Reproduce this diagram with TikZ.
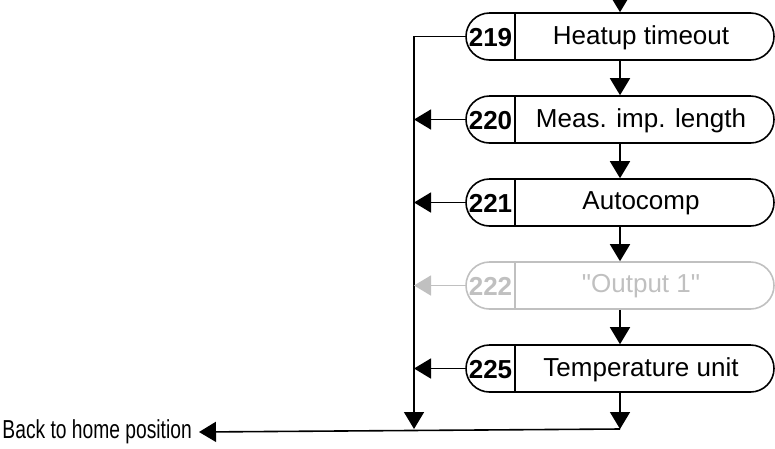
\documentclass[tikz,border=0pt]{standalone}
\usepackage{fontspec}
\usepackage{graphicx}
\setmainfont{Liberation Sans}
\usetikzlibrary{shapes.misc,arrows.meta}
\definecolor{dim}{HTML}{C0C0C0}
\begin{document}
\begin{tikzpicture}[x=1pt,y=-1pt,
  font=\fontsize{26}{30}\selectfont,
  rbox/.style={draw, line width=1.6pt, rounded rectangle, minimum width=308pt, minimum height=47pt, inner sep=0pt},
  numtxt/.style={font=\fontsize{26}{30}\selectfont\bfseries, inner sep=0pt},
  lbltxt/.style={inner sep=0pt},
  arr/.style={line width=1.6pt, -{Triangle[width=20pt,length=17pt]}},
  ln/.style={line width=1.6pt}]
\useasboundingbox (0,0) rectangle (775,448);
% boxes
\foreach \n/\y/\t/\c in {219/36.5/Heatup timeout/black,220/119.5/Meas. imp. length/black,221/202.5/Autocomp/black,222/285.5/\textquotedbl Output 1\textquotedbl/dim,225/368.5/Temperature unit/black}{
  \node[rbox, draw=\c] (b\n) at (620,\y) {};
  \draw[ln, draw=\c] (515,\y-23.5) -- (515,\y+23.5);
  \node[numtxt, text=\c] (n\n) at (490.5,\y+1) {\n};
  \node[lbltxt, text=\c] (t\n) at (641,\y+1) {\t};
}
\coordinate (top) at (620,0);
\coordinate (bot) at (620,429);
\coordinate (botL) at (414,429);
\node[anchor=east, inner sep=0pt] (home) at (192,432) {\scalebox{0.74}[1]{Back to home position}};
% vertical flow
\draw[arr] (top) -- (b219.north);
\draw[arr] (b219.south) -- (b220.north);
\draw[arr] (b220.south) -- (b221.north);
\draw[arr] (b221.south) -- (b222.north);
\draw[arr] (b222.south) -- (b225.north);
\draw[arr] (b225.south) -- (bot);
% left returns
\draw[arr] (b219.west) -| (botL);
\draw[arr] (b220.west) -- (b220.west -| botL);
\draw[arr] (b221.west) -- (b221.west -| botL);
\draw[arr, draw=dim, fill=dim] (b222.west) -- (b222.west -| botL);
\draw[arr] (b225.west) -- (b225.west -| botL);
% bottom
\draw[arr] (bot) -- ([xshift=7pt]home.east);
\end{tikzpicture}
\end{document}
